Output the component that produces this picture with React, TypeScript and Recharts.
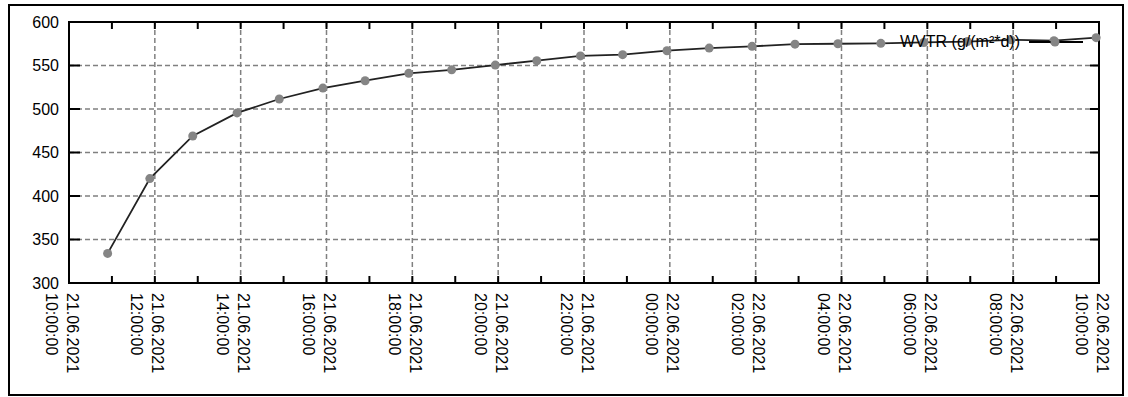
import { CartesianGrid, Legend, Line, LineChart, ReferenceArea, XAxis, YAxis } from 'recharts';

const FONT = '"Liberation Sans", Arial, sans-serif';
const FONT_SIZE = 16;
const DOT = '#858585';
const GRID = '#808080';

// Hourly WVTR measurements, g/(m²*d)
const measuredAt = [
  '21.06.2021 10:54', '21.06.2021 11:53', '21.06.2021 12:53', '21.06.2021 13:55',
  '21.06.2021 14:54', '21.06.2021 15:55', '21.06.2021 16:54', '21.06.2021 17:55',
  '21.06.2021 18:55', '21.06.2021 19:56', '21.06.2021 20:54', '21.06.2021 21:55',
  '21.06.2021 22:54', '21.06.2021 23:56', '22.06.2021 00:55', '22.06.2021 01:55',
  '22.06.2021 02:55', '22.06.2021 03:55', '22.06.2021 04:55', '22.06.2021 05:55',
  '22.06.2021 06:56', '22.06.2021 07:57', '22.06.2021 08:57', '22.06.2021 09:56',
];
const wvtr = [
  334, 420, 469, 495.5, 511.5, 524, 532.5, 541, 545, 550.5, 555.5, 561,
  562.5, 567, 570, 572, 574.5, 575, 575.5, 576.5, 577.5, 579.5, 578.5, 582,
];

const START = '21.06.2021 10:00';
// labelled ticks / grid lines every two hours
const tickHours = [0, 2, 4, 6, 8, 10, 12, 14, 16, 18, 20, 22, 24];
const tickDates = [
  '21.06.2021', '21.06.2021', '21.06.2021', '21.06.2021', '21.06.2021', '21.06.2021', '21.06.2021',
  '22.06.2021', '22.06.2021', '22.06.2021', '22.06.2021', '22.06.2021', '22.06.2021',
];
const tickTimes = [
  '10:00:00', '12:00:00', '14:00:00', '16:00:00', '18:00:00', '20:00:00', '22:00:00',
  '00:00:00', '02:00:00', '04:00:00', '06:00:00', '08:00:00', '10:00:00',
];
// small inward tick marks every hour
const hourMarks = [1, 2, 3, 4, 5, 6, 7, 8, 9, 10, 11, 12, 13, 14, 15, 16, 17, 18, 19, 20, 21, 22, 23];
const yTicks = [300, 350, 400, 450, 500, 550, 600];
const yMarks = [350, 400, 450, 500, 550];

const X_MIN = 0;
const X_MAX = 24;
const Y_MIN = 300;
const Y_MAX = 600;

// chart geometry
const WIDTH = 1128;
const HEIGHT = 397;
const MARGIN = { top: 22, right: 29, bottom: 84, left: 9 };
const Y_AXIS_W = 60;
const X_AXIS_H = 30;
const PLOT_L = MARGIN.left + Y_AXIS_W;
const PLOT_T = MARGIN.top;
const PLOT_W = WIDTH - MARGIN.left - MARGIN.right - Y_AXIS_W;
const PLOT_H = HEIGHT - MARGIN.top - MARGIN.bottom - X_AXIS_H;
const LABEL_GAP = 10;

const parseStamp = (s: string) => {
  const [d, t] = s.split(' ');
  const [dd, mm, yyyy] = d.split('.').map(Number);
  const [hh, mi] = t.split(':').map(Number);
  return Date.UTC(yyyy, mm - 1, dd, hh, mi);
};

const data = measuredAt.map((s, i) => ({
  h: (parseStamp(s) - parseStamp(START)) / 3600000,
  wvtr: wvtr[i],
}));

// same linear mapping as the chart axes, used for the frame tick marks
const px = (h: number) => PLOT_L + ((h - X_MIN) / (X_MAX - X_MIN)) * PLOT_W;
const py = (v: number) => PLOT_T + ((Y_MAX - v) / (Y_MAX - Y_MIN)) * PLOT_H;

function DateTick(props: any) {
  const { x, y, index } = props;
  return (
    <g transform={`translate(${x},${y}) rotate(90)`}>
      <text x={0} y={-3} dominantBaseline="central" textAnchor="start" fill="#000" fontSize={FONT_SIZE} fontFamily={FONT}>
        {tickDates[index]}
      </text>
      <text x={0} y={18} dominantBaseline="central" textAnchor="start" fill="#000" fontSize={FONT_SIZE} fontFamily={FONT}>
        {tickTimes[index]}
      </text>
    </g>
  );
}

// inward tick marks on all four sides of the plot frame
function FrameMarks() {
  return (
    <svg width={WIDTH} height={HEIGHT} style={{ position: 'absolute', left: 0, top: 0, pointerEvents: 'none' }}>
      <g stroke="#000" strokeWidth={2}>
        {hourMarks.map((h) => (
          <g key={h}>
            <line x1={px(h)} x2={px(h)} y1={PLOT_T} y2={PLOT_T + 7} />
            <line x1={px(h)} x2={px(h)} y1={PLOT_T + PLOT_H} y2={PLOT_T + PLOT_H - 7} />
          </g>
        ))}
        {yMarks.map((v) => (
          <g key={v}>
            <line x1={PLOT_L} x2={PLOT_L + 11} y1={py(v)} y2={py(v)} />
            <line x1={PLOT_L + PLOT_W} x2={PLOT_L + PLOT_W - 9} y1={py(v)} y2={py(v)} />
          </g>
        ))}
      </g>
    </svg>
  );
}

function WvtrLegend() {
  return (
    <div style={{ display: 'flex', alignItems: 'center', fontFamily: FONT, fontSize: FONT_SIZE, color: '#000', whiteSpace: 'nowrap' }}>
      <span>WVTR (g/(m²*d))</span>
      <svg width={56} height={12} style={{ marginLeft: 9 }}>
        <line x1={0} x2={54} y1={6} y2={6} stroke="#000" strokeWidth={2} />
        <circle cx={26} cy={6} r={4.5} fill={DOT} />
      </svg>
    </div>
  );
}

export default function App() {
  return (
    <div style={{ position: 'absolute', left: 0, top: 0, width: WIDTH, height: HEIGHT, background: '#fff' }}>
      <div
        style={{
          position: 'absolute', left: 8, top: 4, width: 1116, height: 392,
          border: '2px solid #000', boxSizing: 'border-box',
        }}
      />
      <div style={{ position: 'absolute', left: 0, top: 0 }}>
        <LineChart width={WIDTH} height={HEIGHT} data={data} margin={MARGIN}>
          <CartesianGrid stroke={GRID} strokeWidth={1.5} strokeDasharray="5 3" />
          <XAxis
            dataKey="h" type="number" domain={[X_MIN, X_MAX]} ticks={tickHours} interval={0} height={X_AXIS_H}
            axisLine={false} tickLine={false} tickSize={0} tickMargin={LABEL_GAP} tick={<DateTick />}
          />
          <YAxis
            type="number" domain={[Y_MIN, Y_MAX]} ticks={yTicks} interval={0} width={Y_AXIS_W}
            axisLine={false} tickLine={false} tickSize={0} tickMargin={LABEL_GAP}
            tick={{ fill: '#000', fontSize: FONT_SIZE, fontFamily: FONT }}
          />
          <ReferenceArea x1={X_MIN} x2={X_MAX} y1={Y_MIN} y2={Y_MAX} fill="none" stroke="#000" strokeWidth={2} />
          <Legend
            content={<WvtrLegend />} layout="vertical" align="center" verticalAlign="middle"
            wrapperStyle={{ left: 900, top: 33, width: 240 }}
          />
          <Line
            dataKey="wvtr" stroke="#222" strokeWidth={1.8}
            dot={{ r: 4.5, fill: DOT, stroke: DOT, strokeWidth: 0 }}
            isAnimationActive={false}
          />
        </LineChart>
      </div>
      <FrameMarks />
    </div>
  );
}
